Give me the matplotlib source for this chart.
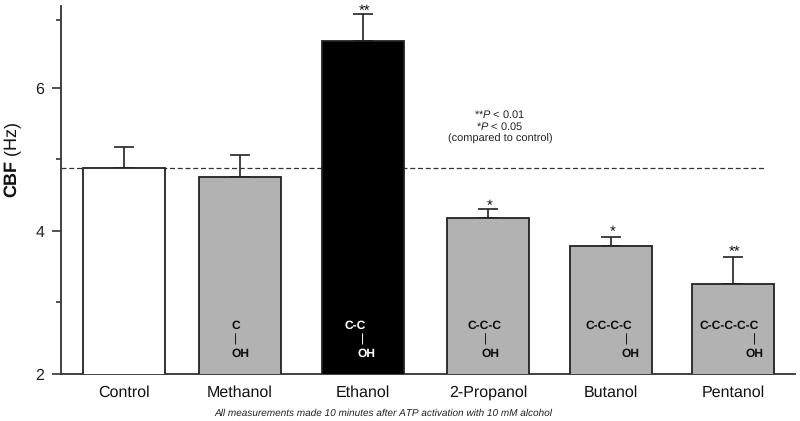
import matplotlib
matplotlib.use("Agg")
import matplotlib.pyplot as plt

plt.rcParams['font.family'] = ['Liberation Sans', 'DejaVu Sans']
plt.rcParams['mathtext.fontset'] = 'custom'
plt.rcParams['mathtext.it'] = 'Liberation Sans:italic'
plt.rcParams['mathtext.rm'] = 'Liberation Sans'
plt.rcParams['mathtext.bf'] = 'Liberation Sans:bold'
plt.rcParams['text.hinting'] = 'none'
plt.rcParams['text.hinting_factor'] = 1

categories = ['Control', 'Methanol', 'Ethanol', '2-Propanol', 'Butanol', 'Pentanol']
positions = [124, 239.5, 363, 488, 611, 733]
values = [4.88, 4.75, 6.65, 4.18, 3.79, 3.26]
errors = [0.29, 0.31, 0.38, 0.12, 0.12, 0.37]
colors = ['white', '#b2b2b2', 'black', '#b2b2b2', '#b2b2b2', '#b2b2b2']
stars = ['', '', '**', '*', '*', '**']
star_dy = [0, 0, -3, -3, -1.5, -1.5]
chain = ['', 'C', 'C-C', 'C-C-C', 'C-C-C-C', 'C-C-C-C-C']
chain_x = [0, 235.7, 354.7, 485, 609, 729]
bond_x = [0, 235.7, 362, 485.7, 626.7, 754]
oh_x = [0, 240, 366, 490, 631, 755]
control_level = 4.88
major_ticks = [2, 4, 6]
minor_ticks = [3, 5, 6.94]

W, H = 800, 421
fig = plt.figure(figsize=(W / 100, H / 100), dpi=100)
ax = fig.add_axes([61 / W, 1 - 374 / H, (795 - 61) / W, (374 - 6) / H])
ax.set_xlim(61, 795)
ax.set_ylim(2, 2 + 368 / 71.6)

ax.bar(positions, values, width=82, bottom=0, color=colors, edgecolor='#222222',
       linewidth=1.3, zorder=3)
for x, v, e in zip(positions, values, errors):
    ax.errorbar(x, v, yerr=[[0], [e]], ecolor='#222222', elinewidth=1.2, capsize=7,
                capthick=1.2, fmt='none', zorder=2)
ax.plot([61, 765], [control_level, control_level], color='#333333', lw=0.9,
        ls=(0, (4, 2.2)), zorder=2.5)

for s in ['top', 'right']:
    ax.spines[s].set_visible(False)
for s in ['left', 'bottom']:
    ax.spines[s].set_linewidth(1.3)
    ax.spines[s].set_color('#333333')

ax.set_yticks(major_ticks)
ax.set_yticks(minor_ticks, minor=True)
ax.set_yticklabels([str(t) for t in major_ticks])
ax.tick_params(axis='y', which='major', length=6.5, width=1.2, color='#333333',
               labelsize=11.5, labelcolor='#222222', pad=5.5)
ax.tick_params(axis='y', which='minor', length=3.6, width=1.2, color='#333333')
ax.set_xticks(positions)
ax.set_xticklabels(categories, fontsize=11.2, color='#111111')
ax.tick_params(axis='x', length=0, pad=8)
ax.set_ylabel(r'$\mathbf{CBF}$ (Hz)', fontsize=12.8, color='#111111')
ax.yaxis.set_label_coords((23 - 61) / (795 - 61), (374 - 160) / 368)

for x, v, e, st, dy in zip(positions, values, errors, stars, star_dy):
    if st:
        ax.annotate(st, (x, v + e), xytext=(1.1, dy), textcoords='offset points',
                    ha='center', va='bottom', fontsize=10.5, color='#111111')

for i, ch in enumerate(chain):
    if not ch:
        continue
    col = 'white' if colors[i] == 'black' else '#111111'
    ax.text(chain_x[i], 2.68, ch, ha='center', va='center', fontsize=8.5,
            fontweight='bold', color=col, zorder=4)
    ax.text(bond_x[i], 2.48, '|', ha='center', va='center', fontsize=8.5,
            color=col, zorder=4)
    ax.text(oh_x[i], 2.285, 'OH', ha='center', va='center', fontsize=8.5,
            fontweight='bold', color=col, zorder=4)

ax.text(500, 5.63, r'**$\mathit{P}$ < 0.01', ha='center', va='center', fontsize=7.6, color='#222222')
ax.text(500, 5.46, r'*$\mathit{P}$ < 0.05', ha='center', va='center', fontsize=7.6, color='#222222')
ax.text(500, 5.29, '(compared to control)', ha='center', va='center', fontsize=7.6, color='#222222')

fig.text(383.5 / W, 1 - 413 / H, 'All measurements made 10 minutes after ATP activation with 10 mM alcohol',
         ha='center', va='center', fontsize=7.45, style='italic', color='#222222')

fig.savefig('out.png', dpi=100)
